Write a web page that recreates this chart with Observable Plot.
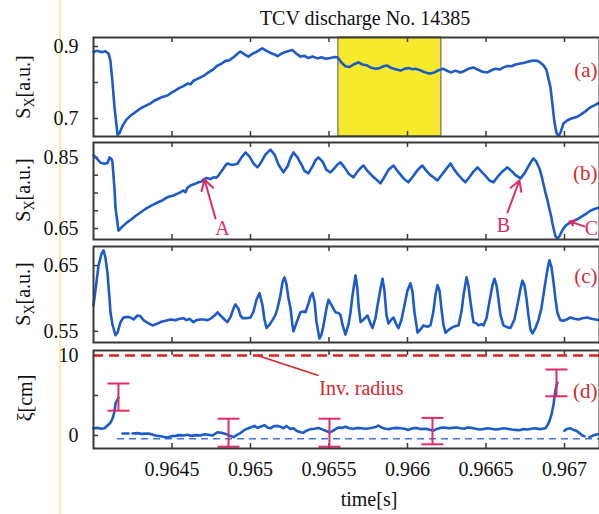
<!DOCTYPE html>
<html><head><meta charset="utf-8">
<script src="https://cdn.jsdelivr.net/npm/d3@7"></script>
<script src="https://cdn.jsdelivr.net/npm/@observablehq/plot@0.6"></script>
<style>
body{margin:0;background:#fff;}
#wrap{position:relative;width:599px;height:514px;overflow:hidden;font-family:"Liberation Serif","Times New Roman","DejaVu Serif",serif;background:#fff;color:#111;}
.lbl{position:absolute;font-size:20px;white-space:nowrap;transform:translate(-50%,-50%);}
.ylab{position:absolute;font-size:20px;white-space:nowrap;transform:translate(-50%,-50%) rotate(-90deg);}
</style></head><body><div id="wrap"></div><script>
// ---- data ----
const xDomain = [0.964, 0.967223];
const xTicks = [0.9645, 0.965, 0.9655, 0.966, 0.9665, 0.967];
const xTickLabels = ["0.9645", "0.965", "0.9655", "0.966", "0.9665", "0.967"];

const yTicksA = [0.7, 0.8, 0.9], yLabelsA = [0.9, 0.7];
const yTicksB = [0.65, 0.7, 0.75, 0.8, 0.85], yLabelsB = [0.85, 0.65];
const yTicksC = [0.55, 0.65], yLabelsC = [0.65, 0.55];
const yTicksD = [0, 5, 10], yLabelsD = [10, 0];

const panelLabels = ["(a)", "(b)", "(c)", "(d)"];

// shaded interval in (a)
const shadeStart = 0.96556, shadeEnd = 0.966216;

// (a) soft X-ray signal
const seriesA = [[0.964000,0.885],[0.964025,0.888],[0.964051,0.884],[0.964076,0.887],[0.964096,0.880],[0.964108,0.860],[0.964121,0.800],[0.964134,0.730],[0.964153,0.655],[0.964166,0.660],[0.964185,0.680],[0.964210,0.697],[0.964236,0.708],[0.964255,0.714],[0.964280,0.722],[0.964306,0.730],[0.964331,0.735],[0.964363,0.742],[0.964389,0.750],[0.964414,0.755],[0.964439,0.760],[0.964471,0.764],[0.964497,0.772],[0.964522,0.778],[0.964548,0.785],[0.964573,0.790],[0.964599,0.797],[0.964618,0.795],[0.964637,0.805],[0.964662,0.810],[0.964681,0.814],[0.964707,0.820],[0.964732,0.828],[0.964758,0.835],[0.964790,0.847],[0.964815,0.852],[0.964841,0.860],[0.964866,0.862],[0.964892,0.870],[0.964917,0.880],[0.964936,0.886],[0.964962,0.878],[0.964987,0.872],[0.965013,0.880],[0.965038,0.885],[0.965064,0.892],[0.965076,0.895],[0.965102,0.888],[0.965127,0.882],[0.965153,0.878],[0.965172,0.873],[0.965197,0.880],[0.965223,0.885],[0.965248,0.888],[0.965267,0.890],[0.965293,0.880],[0.965318,0.872],[0.965344,0.874],[0.965369,0.868],[0.965395,0.872],[0.965427,0.867],[0.965452,0.870],[0.965478,0.866],[0.965509,0.868],[0.965535,0.871],[0.965554,0.870],[0.965580,0.855],[0.965605,0.845],[0.965630,0.843],[0.965656,0.850],[0.965688,0.856],[0.965713,0.850],[0.965739,0.848],[0.965764,0.842],[0.965796,0.838],[0.965822,0.840],[0.965847,0.845],[0.965872,0.847],[0.965898,0.840],[0.965930,0.836],[0.965955,0.833],[0.965981,0.838],[0.966006,0.840],[0.966032,0.837],[0.966051,0.838],[0.966076,0.835],[0.966102,0.830],[0.966127,0.826],[0.966146,0.825],[0.966172,0.828],[0.966197,0.834],[0.966229,0.838],[0.966255,0.832],[0.966280,0.828],[0.966306,0.833],[0.966337,0.828],[0.966363,0.832],[0.966388,0.838],[0.966420,0.842],[0.966446,0.836],[0.966478,0.830],[0.966509,0.828],[0.966535,0.834],[0.966560,0.838],[0.966586,0.836],[0.966611,0.842],[0.966637,0.846],[0.966662,0.845],[0.966688,0.850],[0.966720,0.853],[0.966745,0.855],[0.966770,0.858],[0.966802,0.861],[0.966828,0.860],[0.966847,0.855],[0.966866,0.848],[0.966885,0.835],[0.966898,0.810],[0.966911,0.786],[0.966923,0.740],[0.966936,0.690],[0.966949,0.660],[0.966962,0.652],[0.966974,0.660],[0.966993,0.686],[0.967019,0.695],[0.967044,0.700],[0.967083,0.705],[0.967108,0.712],[0.967140,0.722],[0.967165,0.731],[0.967197,0.738],[0.967223,0.745]];

// (b)
const seriesB = [[0.964000,0.856],[0.964019,0.848],[0.964045,0.835],[0.964070,0.832],[0.964089,0.834],[0.964102,0.850],[0.964115,0.845],[0.964121,0.836],[0.964134,0.760],[0.964140,0.709],[0.964153,0.665],[0.964159,0.644],[0.964172,0.650],[0.964191,0.658],[0.964217,0.668],[0.964242,0.676],[0.964267,0.685],[0.964299,0.695],[0.964331,0.705],[0.964363,0.713],[0.964389,0.719],[0.964408,0.723],[0.964433,0.728],[0.964459,0.735],[0.964484,0.740],[0.964510,0.743],[0.964535,0.748],[0.964554,0.752],[0.964573,0.757],[0.964586,0.752],[0.964599,0.765],[0.964618,0.771],[0.964643,0.775],[0.964669,0.780],[0.964688,0.782],[0.964701,0.788],[0.964720,0.792],[0.964745,0.789],[0.964764,0.794],[0.964783,0.793],[0.964796,0.799],[0.964822,0.815],[0.964841,0.828],[0.964853,0.833],[0.964879,0.829],[0.964898,0.830],[0.964917,0.832],[0.964943,0.850],[0.964968,0.864],[0.964994,0.852],[0.965019,0.833],[0.965045,0.822],[0.965070,0.838],[0.965095,0.858],[0.965127,0.872],[0.965153,0.858],[0.965178,0.830],[0.965210,0.808],[0.965236,0.825],[0.965255,0.848],[0.965274,0.864],[0.965299,0.850],[0.965325,0.830],[0.965344,0.812],[0.965369,0.805],[0.965395,0.825],[0.965414,0.842],[0.965433,0.850],[0.965459,0.838],[0.965484,0.815],[0.965509,0.808],[0.965535,0.820],[0.965554,0.830],[0.965573,0.836],[0.965599,0.822],[0.965624,0.805],[0.965637,0.800],[0.965656,0.794],[0.965681,0.810],[0.965701,0.820],[0.965720,0.827],[0.965745,0.812],[0.965771,0.800],[0.965796,0.790],[0.965828,0.777],[0.965853,0.795],[0.965879,0.815],[0.965911,0.827],[0.965936,0.812],[0.965962,0.798],[0.965981,0.788],[0.966006,0.780],[0.966032,0.795],[0.966057,0.810],[0.966076,0.820],[0.966095,0.827],[0.966121,0.812],[0.966146,0.800],[0.966172,0.792],[0.966191,0.785],[0.966216,0.800],[0.966242,0.815],[0.966274,0.833],[0.966299,0.815],[0.966325,0.800],[0.966350,0.788],[0.966369,0.780],[0.966395,0.795],[0.966420,0.810],[0.966446,0.822],[0.966471,0.810],[0.966497,0.798],[0.966522,0.785],[0.966548,0.780],[0.966573,0.795],[0.966599,0.808],[0.966618,0.815],[0.966637,0.822],[0.966662,0.812],[0.966688,0.800],[0.966720,0.791],[0.966745,0.805],[0.966770,0.825],[0.966790,0.840],[0.966802,0.847],[0.966821,0.838],[0.966841,0.818],[0.966853,0.800],[0.966866,0.775],[0.966879,0.750],[0.966892,0.729],[0.966904,0.705],[0.966917,0.680],[0.966923,0.664],[0.966936,0.640],[0.966942,0.628],[0.966955,0.622],[0.966968,0.628],[0.966981,0.640],[0.966993,0.650],[0.967013,0.660],[0.967038,0.667],[0.967063,0.672],[0.967089,0.678],[0.967114,0.685],[0.967140,0.692],[0.967165,0.700],[0.967191,0.705],[0.967223,0.709]];

// (c)
const seriesC = [[0.964000,0.589],[0.964019,0.625],[0.964032,0.650],[0.964051,0.668],[0.964064,0.673],[0.964076,0.662],[0.964089,0.639],[0.964102,0.600],[0.964108,0.579],[0.964121,0.560],[0.964140,0.544],[0.964153,0.548],[0.964172,0.564],[0.964191,0.571],[0.964217,0.572],[0.964236,0.571],[0.964255,0.568],[0.964280,0.574],[0.964299,0.573],[0.964318,0.567],[0.964344,0.563],[0.964376,0.559],[0.964401,0.561],[0.964427,0.564],[0.964459,0.566],[0.964490,0.568],[0.964522,0.567],[0.964548,0.569],[0.964573,0.570],[0.964592,0.567],[0.964611,0.569],[0.964637,0.564],[0.964656,0.567],[0.964681,0.568],[0.964701,0.568],[0.964726,0.567],[0.964745,0.569],[0.964771,0.574],[0.964790,0.579],[0.964809,0.574],[0.964834,0.568],[0.964853,0.564],[0.964873,0.572],[0.964892,0.585],[0.964904,0.591],[0.964924,0.584],[0.964936,0.574],[0.964949,0.570],[0.964974,0.570],[0.965000,0.571],[0.965019,0.580],[0.965038,0.598],[0.965057,0.608],[0.965076,0.590],[0.965089,0.568],[0.965102,0.555],[0.965121,0.560],[0.965140,0.567],[0.965159,0.575],[0.965172,0.585],[0.965191,0.605],[0.965204,0.625],[0.965216,0.632],[0.965229,0.622],[0.965242,0.600],[0.965255,0.585],[0.965267,0.560],[0.965274,0.550],[0.965293,0.563],[0.965318,0.579],[0.965337,0.580],[0.965350,0.579],[0.965369,0.592],[0.965382,0.603],[0.965395,0.608],[0.965408,0.595],[0.965420,0.565],[0.965439,0.539],[0.965452,0.545],[0.965465,0.559],[0.965484,0.585],[0.965497,0.598],[0.965516,0.590],[0.965541,0.579],[0.965560,0.578],[0.965573,0.575],[0.965586,0.560],[0.965605,0.545],[0.965624,0.560],[0.965637,0.579],[0.965650,0.605],[0.965669,0.635],[0.965681,0.615],[0.965688,0.590],[0.965701,0.564],[0.965720,0.568],[0.965745,0.574],[0.965764,0.562],[0.965777,0.555],[0.965796,0.570],[0.965809,0.589],[0.965828,0.615],[0.965841,0.630],[0.965853,0.612],[0.965866,0.575],[0.965879,0.562],[0.965898,0.568],[0.965911,0.571],[0.965930,0.560],[0.965943,0.555],[0.965962,0.568],[0.965981,0.590],[0.966000,0.612],[0.966019,0.623],[0.966032,0.610],[0.966044,0.580],[0.966064,0.548],[0.966083,0.553],[0.966102,0.559],[0.966127,0.557],[0.966146,0.559],[0.966165,0.580],[0.966178,0.605],[0.966191,0.620],[0.966204,0.612],[0.966216,0.585],[0.966229,0.560],[0.966242,0.548],[0.966267,0.553],[0.966286,0.556],[0.966306,0.558],[0.966325,0.559],[0.966344,0.580],[0.966357,0.605],[0.966376,0.632],[0.966388,0.620],[0.966401,0.595],[0.966420,0.564],[0.966439,0.562],[0.966452,0.559],[0.966471,0.561],[0.966484,0.559],[0.966503,0.570],[0.966522,0.595],[0.966541,0.620],[0.966554,0.630],[0.966567,0.620],[0.966579,0.600],[0.966592,0.575],[0.966611,0.559],[0.966637,0.556],[0.966656,0.555],[0.966681,0.568],[0.966700,0.590],[0.966720,0.615],[0.966732,0.627],[0.966745,0.620],[0.966758,0.600],[0.966770,0.575],[0.966783,0.553],[0.966796,0.547],[0.966815,0.555],[0.966834,0.567],[0.966853,0.585],[0.966872,0.615],[0.966892,0.645],[0.966904,0.658],[0.966917,0.648],[0.966930,0.625],[0.966942,0.600],[0.966955,0.578],[0.966974,0.567],[0.966993,0.566],[0.967013,0.568],[0.967038,0.571],[0.967063,0.569],[0.967089,0.568],[0.967114,0.570],[0.967146,0.571],[0.967172,0.569],[0.967197,0.568],[0.967223,0.567]];

// (d) displacement xi [cm]; NaN = gap
const seriesD = [[0.964000,0.9],[0.964025,0.95],[0.964051,0.85],[0.964070,0.9],[0.964089,1.25],[0.964108,1.6],[0.964121,2.1],[0.964134,3.0],[0.964140,4.0],[0.964153,4.5],[0.964159,4.75],[0.964170,NaN],[0.964185,0.25],[0.964223,0.25],[0.964235,NaN],[0.964248,0.25],[0.964280,0.3],[0.964306,0.2],[0.964338,0.25],[0.964363,0.2],[0.964395,0.0],[0.964427,-0.1],[0.964452,-0.2],[0.964471,-0.25],[0.964497,-0.1],[0.964522,-0.05],[0.964548,0.05],[0.964573,0.0],[0.964599,0.1],[0.964624,-0.05],[0.964650,0.05],[0.964681,0.0],[0.964707,0.15],[0.964732,0.1],[0.964758,0.0],[0.964790,0.4],[0.964815,0.35],[0.964841,0.2],[0.964866,0.0],[0.964892,-0.2],[0.964917,0.1],[0.964936,0.3],[0.964962,0.7],[0.964987,0.9],[0.965000,1.0],[0.965025,1.2],[0.965045,0.95],[0.965064,1.1],[0.965089,1.3],[0.965108,1.0],[0.965127,0.9],[0.965146,1.15],[0.965172,1.2],[0.965191,1.1],[0.965210,0.9],[0.965229,1.2],[0.965255,0.8],[0.965274,0.9],[0.965293,0.6],[0.965318,0.4],[0.965337,0.35],[0.965357,0.6],[0.965382,0.8],[0.965408,0.85],[0.965433,0.95],[0.965452,0.8],[0.965478,0.6],[0.965503,0.4],[0.965522,0.55],[0.965541,0.8],[0.965560,1.0],[0.965580,0.95],[0.965605,1.1],[0.965630,0.9],[0.965656,0.85],[0.965681,0.95],[0.965707,0.9],[0.965732,0.85],[0.965758,0.9],[0.965783,1.0],[0.965802,1.1],[0.965815,1.25],[0.965834,1.0],[0.965860,0.85],[0.965885,0.8],[0.965904,0.9],[0.965930,0.95],[0.965955,0.9],[0.965981,0.85],[0.966006,0.7],[0.966032,0.9],[0.966057,0.95],[0.966083,0.8],[0.966108,0.85],[0.966127,0.8],[0.966146,0.7],[0.966165,0.6],[0.966185,0.8],[0.966210,0.95],[0.966235,1.0],[0.966261,0.9],[0.966286,0.95],[0.966312,1.0],[0.966337,0.9],[0.966363,0.85],[0.966382,1.0],[0.966407,0.95],[0.966433,0.85],[0.966458,0.75],[0.966484,0.8],[0.966509,0.9],[0.966535,0.85],[0.966560,0.75],[0.966586,0.8],[0.966611,0.9],[0.966637,0.85],[0.966662,0.75],[0.966688,0.7],[0.966713,0.65],[0.966739,0.8],[0.966764,0.75],[0.966790,0.85],[0.966815,0.9],[0.966841,0.8],[0.966860,0.85],[0.966879,0.9],[0.966892,1.3],[0.966904,1.8],[0.966917,2.6],[0.966930,3.8],[0.966936,4.8],[0.966942,5.6],[0.966949,6.2],[0.966955,6.6],[0.966975,NaN],[0.967000,0.6],[0.967019,0.85],[0.967038,0.9],[0.967057,0.7],[0.967076,0.6],[0.967095,0.3],[0.967114,0.0],[0.967127,-0.1],[0.967140,NaN],[0.967159,-0.2],[0.967178,-0.05],[0.967197,0.1],[0.967223,0.2]];

// error bars in (d)
const errT  = [0.964159, 0.964860, 0.965503, 0.966159, 0.966949];
const errHi = [6.5, 2.1, 2.1, 2.2, 8.25];
const errLo = [3.1, -1.4, -1.4, -1.1, 4.9];
const capHalfWidth = 0.00007; // seconds

const invRadius = 10;
const zeroLevel = -0.4;
const zeroLevelStart = 0.964153;

// annotations in (b)
const letters = ["A", "B", "C"];
const letterT = [0.964822, 0.966611, 0.967172];
const letterV = [0.650, 0.658, 0.650];
const arrowT1 = [0.964777, 0.966637, 0.967127];
const arrowV1 = [0.678, 0.695, 0.656];
const arrowT2 = [0.964707, 0.966713, 0.967032];
const arrowV2 = [0.788, 0.785, 0.670];

// "Inv. radius" annotation in (d)
const invLabel = "Inv. radius";
const invLineT = [0.965045, 0.965433];
const invLineV = [10, 7.5];
const invTextT = 0.965707, invTextV = 5.875;

// ---- drawing ----
const BLUE = "#1d5cc8", RED = "#d8282c", PINK = "#e22a66", FRAME = "#3a3a3a";
const FONT = "'Liberation Serif', 'Times New Roman', 'DejaVu Serif', serif";
const W = 599, ML = 93;
const wrap = document.getElementById("wrap");

function addDiv(html, cls, css) {
  const d = document.createElement("div");
  if (cls) d.className = cls;
  d.innerHTML = html;
  d.style.cssText += css;
  wrap.appendChild(d);
  return d;
}

// faint scan line
addDiv("", "", "position:absolute;left:59px;top:0;width:2px;height:514px;background:#f5f0a2;");

function makePanel({top, frameH, mb = 0, yDomain, yTicks, yLabels, label, labelDy, under = [], over = [], xLabels = false}) {
  const innerW = W - ML;
  const marks = [
    ...under,
    Plot.tickX(xTicks, {x: d => d, insetTop: frameH - 5, stroke: FRAME, strokeWidth: 1.5}),
    Plot.tickX(xTicks, {x: d => d, insetBottom: frameH - 5, stroke: FRAME, strokeWidth: 1.5}),
    Plot.tickY(yTicks, {y: d => d, insetRight: innerW - 5, stroke: FRAME, strokeWidth: 1.5}),
    Plot.text(yLabels, {y: d => d, text: d => String(d), frameAnchor: "left", textAnchor: "end", dx: -15, fill: "#111", fontFamily: FONT}),
    ...over,
    Plot.text([label], {text: d => d, frameAnchor: "top-right", textAnchor: "end", dx: -2, dy: labelDy, fill: RED, fontSize: 21, fontFamily: FONT}),
    Plot.frame({stroke: FRAME, strokeWidth: 2})
  ];
  if (xLabels) marks.push(Plot.text(xTicks, {x: d => d, text: (d, i) => xTickLabels[i], frameAnchor: "bottom", dy: 27, fill: "#111", fontFamily: FONT}));
  const svg = Plot.plot({
    width: W, height: frameH + mb,
    marginLeft: ML, marginRight: 0, marginTop: 0, marginBottom: mb,
    x: {domain: xDomain, axis: null},
    y: {domain: yDomain, axis: null},
    style: {background: "transparent", overflow: "visible", fontFamily: FONT, fontSize: "20px", color: "#111"},
    marks
  });
  svg.style.position = "absolute";
  svg.style.left = "0px";
  svg.style.top = top + "px";
  wrap.appendChild(svg);
}

const lineOpts = {x: d => d[0], y: d => d[1], stroke: BLUE, strokeWidth: 2.6, strokeLinejoin: "round"};

// (a)
makePanel({
  top: 37, frameH: 99, yDomain: [0.65, 0.925], yTicks: yTicksA, yLabels: yLabelsA,
  label: panelLabels[0], labelDy: 25,
  under: [Plot.rect([0], {x1: () => shadeStart, x2: () => shadeEnd, fill: "#f7ea2c", stroke: "#555", strokeWidth: 1})],
  over: [Plot.line(seriesA, lineOpts)]
});

// (b)
const annB = letters.map((s, i) => ({s, t: letterT[i], v: letterV[i], t1: arrowT1[i], v1: arrowV1[i], t2: arrowT2[i], v2: arrowV2[i]}));
makePanel({
  top: 142, frameH: 97, yDomain: [0.619, 0.892], yTicks: yTicksB, yLabels: yLabelsB,
  label: panelLabels[1], labelDy: 23,
  over: [
    Plot.line(seriesB, lineOpts),
    Plot.arrow(annB, {x1: "t1", y1: "v1", x2: "t2", y2: "v2", stroke: PINK, strokeWidth: 2, headLength: 9}),
    Plot.text(annB, {x: "t", y: "v", text: "s", fill: PINK, fontFamily: FONT})
  ]
});

// (c)
makePanel({
  top: 246, frameH: 96, yDomain: [0.533, 0.679], yTicks: yTicksC, yLabels: yLabelsC,
  label: panelLabels[2], labelDy: 22,
  over: [Plot.line(seriesC, lineOpts)]
});

// (d)
const errs = errT.map((t, i) => ({t, hi: errHi[i], lo: errLo[i]}));
const caps = errs.flatMap(e => [{t: e.t, v: e.hi}, {t: e.t, v: e.lo}]);
makePanel({
  top: 350, frameH: 98, mb: 66, yDomain: [-1.625, 10.625], yTicks: yTicksD, yLabels: yLabelsD,
  label: panelLabels[3], labelDy: 33, xLabels: true,
  over: [
    Plot.ruleY([invRadius], {stroke: "#e0201c", strokeWidth: 2.5, strokeDasharray: "10,6"}),
    Plot.ruleY([zeroLevel], {x1: zeroLevelStart, x2: xDomain[1], stroke: "#3d74dc", strokeWidth: 1.5, strokeDasharray: "7,5"}),
    Plot.line(seriesD, lineOpts),
    Plot.ruleX(errs, {x: "t", y1: "lo", y2: "hi", stroke: PINK, strokeWidth: 2}),
    Plot.link(caps, {x1: d => d.t - capHalfWidth, x2: d => d.t + capHalfWidth, y1: "v", y2: "v", stroke: PINK, strokeWidth: 2}),
    Plot.link([0], {x1: () => invLineT[0], x2: () => invLineT[1], y1: () => invLineV[0], y2: () => invLineV[1], stroke: RED, strokeWidth: 1.8}),
    Plot.text([invLabel], {x: () => invTextT, y: () => invTextV, text: d => d, fill: RED, fontFamily: FONT})
  ]
});

// title, axis titles
addDiv("TCV discharge No. 14385", "lbl", "left:365px;top:18px;");
addDiv("time[s]", "lbl", "left:369px;top:499px;");
const sx = 'S<span style="font-size:14px;position:relative;top:4px;">X</span>[a.u.]';
addDiv(sx, "ylab", "left:23px;top:87px;");
addDiv(sx, "ylab", "left:23px;top:190px;");
addDiv(sx, "ylab", "left:23px;top:294px;");
addDiv("ξ[cm]", "ylab", "left:25px;top:398px;");
</script></body></html>
